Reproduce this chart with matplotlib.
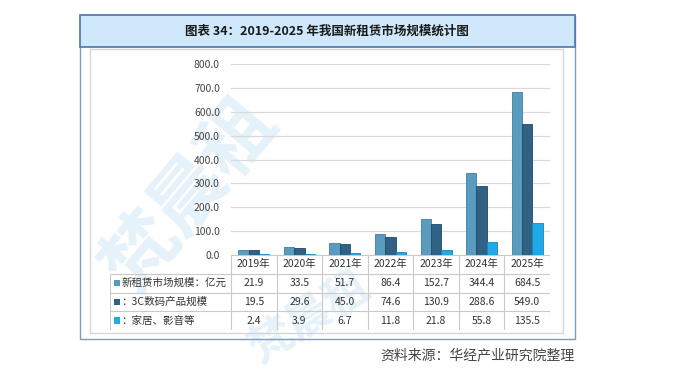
#!/usr/bin/env python3
"""图表 34：2019-2025 年我国新租赁市场规模统计图（柱状图 + 数据表）"""
import matplotlib
matplotlib.use("Agg")
import matplotlib.pyplot as plt
from matplotlib.patches import Rectangle
from matplotlib.lines import Line2D
import numpy as np

plt.rcParams["font.family"] = ["Noto Sans CJK SC", "DejaVu Sans"]

years = ["2019年", "2020年", "2021年", "2022年", "2023年", "2024年", "2025年"]
series_names = ["新租赁市场规模：亿元", "：3C数码产品规模", "：家居、影音等"]
total = [21.9, 33.5, 51.7, 86.4, 152.7, 344.4, 684.5]
digital_3c = [19.5, 29.6, 45.0, 74.6, 130.9, 288.6, 549.0]
home_av = [2.4, 3.9, 6.7, 11.8, 21.8, 55.8, 135.5]
series = [total, digital_3c, home_av]
colors = ["#5a9cc0", "#2f6285", "#1fa9e6"]
edges = ["#3f7fa3", "#1f4a66", "#1487bd"]

W, H = 680, 380
fig = plt.figure(figsize=(W / 100, H / 100), dpi=100)
fig.patch.set_facecolor("white")


def box(x0, y0, x1, y1):
    # píxeles (origen arriba-izquierda) -> fracción de figura
    return [x0 / W, 1 - y1 / H, (x1 - x0) / W, (y1 - y0) / H]


# marca de agua (tenue, detrás de todo)
wm = dict(color="#e6f2fa", fontweight="bold", ha="center", va="center",
          zorder=-5, transform=fig.transFigure)
fig.text(190 / W, 1 - 195 / H, "梵晨租", fontsize=54, rotation=50, **wm)
fig.text(310 / W, 1 - 318 / H, "梵晨租", fontsize=32, rotation=32, **wm)

# marcos y barra de título
bx = box(80, 15, 575, 339)
fig.patches.append(Rectangle((bx[0], bx[1]), bx[2], bx[3], fill=False,
                             ec="#7b9cc0", lw=1.0, transform=fig.transFigure))
bx = box(90, 49, 563, 333)
fig.patches.append(Rectangle((bx[0], bx[1]), bx[2], bx[3], fill=False,
                             ec="#d6d6d6", lw=1.0, transform=fig.transFigure))
bx = box(80, 15, 575, 47)
fig.patches.append(Rectangle((bx[0], bx[1]), bx[2], bx[3], fc="#cfe8fb",
                             ec="#4d77a6", lw=1.2, transform=fig.transFigure))
fig.text(327 / W, 1 - 31 / H, "图表 34：2019-2025 年我国新租赁市场规模统计图",
         fontsize=9, fontweight="bold", color="#1a1a1a",
         ha="center", va="center")

# gráfico de barras
ax = fig.add_axes(box(231, 64, 550, 255))
ax.set_facecolor("none")
ax.set_zorder(2)
x = np.arange(len(years))
bw = 0.226
for i, (vals, c, e) in enumerate(zip(series, colors, edges)):
    ax.bar(x + (i - 1) * bw, vals, bw, color=c, edgecolor=e, lw=0.6,
           zorder=3)
ax.set_xlim(-0.5, len(years) - 0.5)
ax.set_ylim(0, 800)
ax.set_yticks(np.arange(0, 801, 100))
ax.set_yticklabels([f"{v:.1f}" for v in np.arange(0, 801, 100)],
                   fontsize=7.5, color="#444444")
ax.tick_params(axis="y", length=0, pad=8)
ax.set_xticks([])
ax.grid(axis="y", color="#d9d9d9", lw=0.9, zorder=0)
for s in ax.spines.values():
    s.set_visible(False)

# tabla de datos debajo
unit = (550 - 231) / len(years)
left_x = -0.5 - (231 - 110) / unit
tab = fig.add_axes(box(110, 255, 550, 330))
tab.set_zorder(2)
tab.set_xlim(left_x, len(years) - 0.5)
tab.set_ylim(4, 0)
tab.axis("off")
lc = "#c9c9c9"
bounds = np.arange(len(years) + 1) - 0.5
for b in bounds:
    tab.add_line(Line2D([b, b], [0, 4], color=lc, lw=0.8))
tab.add_line(Line2D([bounds[0], bounds[-1]], [0, 0], color=lc, lw=0.8))
for r in (1, 2, 3, 4):
    tab.add_line(Line2D([left_x, bounds[-1]], [r, r], color=lc, lw=0.8))
tab.add_line(Line2D([left_x, left_x], [1, 4], color=lc, lw=0.8))
for j, yr in enumerate(years):
    tab.text(j, 0.5, yr, fontsize=7.5, color="#333333",
             ha="center", va="center")
for i, (name, vals, c) in enumerate(zip(series_names, series, colors)):
    row = i + 1.5
    tab.add_patch(Rectangle((left_x + 0.08, row - 0.17), 0.13, 0.34,
                            fc=c, ec="none"))
    tab.text(left_x + 0.25, row, name, fontsize=7.6, color="#333333",
             ha="left", va="center")
    for j, v in enumerate(vals):
        tab.text(j, row, f"{v:.1f}", fontsize=7.5, color="#333333",
                 ha="center", va="center")

fig.text(575 / W, 1 - 355 / H, "资料来源：华经产业研究院整理", fontsize=10,
         color="#444444", ha="right", va="center")

fig.savefig("out.png", dpi=100, facecolor="white")
